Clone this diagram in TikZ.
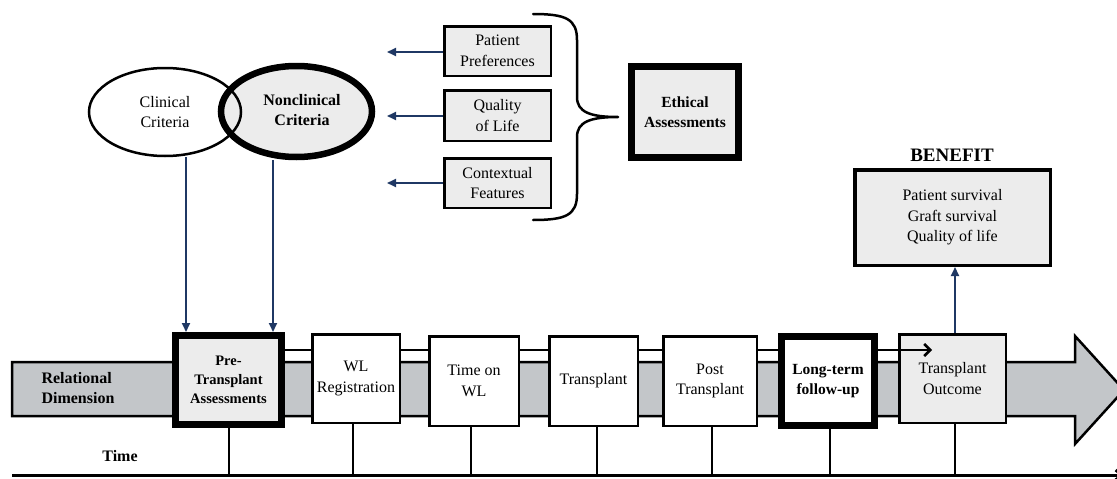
\documentclass[tikz,border=0pt]{standalone}
\usepackage{fontspec}
\setmainfont{Liberation Serif}
\usetikzlibrary{shapes.geometric,arrows.meta}
\definecolor{boxfill}{HTML}{ECECEC}
\definecolor{bandgrey}{HTML}{C3C6C9}
\definecolor{navy}{HTML}{1F3864}
\tikzset{
  txt/.style={font=\fontsize{16}{20.5}\selectfont, align=center, inner sep=0pt},
  thinbox/.style={txt, draw=black, line width=2.5pt, rectangle},
  heavybox/.style={txt, draw=black, line width=7pt, rectangle, font=\fontsize{15.5}{20}\selectfont\bfseries},
  navyarrow/.style={draw=navy, line width=2pt, -{Triangle[length=9pt,width=8pt]}},
  tick/.style={draw=black, line width=2.5pt},
}
\begin{document}
\begin{tikzpicture}[x=1pt,y=-1pt]
\useasboundingbox (0,0) rectangle (1117,479);

% relational dimension band with its arrow head
\draw[fill=bandgrey, line width=2.5pt, line join=miter]
  (12,362) -- (1075,362) -- (1075,336) -- (1124,390) -- (1075,444) -- (1075,416) -- (12,416) -- cycle;
\node[txt, font=\fontsize{16}{20}\selectfont\bfseries, align=left] (rel) at (78,388) {Relational\\Dimension};

% time axis
\coordinate (axL) at (12,475);
\coordinate (axR) at (1124,475);
\draw[line width=3pt, -{Straight Barb[length=6pt,width=10pt]}] (axL) -- (axR);
\node[txt, font=\fontsize{16}{20}\selectfont\bfseries] (time) at (120,456) {Time};

% outcome box first, so the timeline arrow lies on it
\node[thinbox, fill=boxfill, minimum width=106.5pt, minimum height=88.5pt] (outc) at (952.5,378.5) {Transplant\\Outcome};

% timeline arrow running behind the stage boxes
\coordinate (lstart) at (285,350);
\coordinate (lend) at (932,350);
\draw[line width=2.5pt, -{Straight Barb[length=6pt,width=12pt]}] (lstart) -- (lend);

% stage boxes
\node[heavybox, fill=boxfill, minimum width=106pt, minimum height=89pt, font=\fontsize{14.5}{19}\selectfont\bfseries] (pre) at (228.5,380) {Pre-\\Transplant\\Assessments};
\node[thinbox, fill=white, minimum width=87.5pt, minimum height=88.5pt] (wl) at (356,378.5) {WL\\Registration};
\node[thinbox, fill=white, minimum width=89.5pt, minimum height=89.5pt] (time-wl) at (474,381) {Time on\\WL};
\node[thinbox, fill=white, minimum width=88.5pt, minimum height=89.5pt] (tx) at (593.5,381) {Transplant};
\node[thinbox, fill=white, minimum width=93.5pt, minimum height=89.5pt] (post) at (710,381) {Post\\Transplant};
\node[heavybox, fill=white, minimum width=93pt, minimum height=89pt] (long) at (828,381) {Long-term\\follow-up};

% ticks down to the time axis
\foreach \n/\xx in {pre/229, wl/353, time-wl/471, tx/597, post/712, long/830, outc/955}{
  \draw[tick] (\n.south -| \xx,0) -- (axL -| \xx,0);
}

% criteria ellipses
\node[ellipse, fill=white, minimum width=152pt, minimum height=88pt, inner sep=0pt] (clinfill) at (165,112) {};
\node[ellipse, fill=boxfill, draw=black, line width=6.5pt, minimum width=151pt, minimum height=91pt, inner sep=0pt] (nonclin) at (296.5,111.5) {};
\node[ellipse, draw=black, line width=2.5pt, minimum width=152pt, minimum height=88pt, inner sep=0pt] (clin) at (165,112) {};
\node[txt] (clintxt) at (165,112) {Clinical\\Criteria};
\node[txt, font=\fontsize{16}{20.5}\selectfont\bfseries] (nontxt) at (302,110) {Nonclinical\\Criteria};

\coordinate (c1) at (186,157);
\coordinate (c2) at (273,160);
\draw[navyarrow] (c1) -- (pre.north -| c1);
\draw[navyarrow] (c2) -- (pre.north -| c2);

% ethical considerations
\node[thinbox, fill=boxfill, minimum width=106.5pt, minimum height=49.5pt] (pref) at (497.5,51) {Patient\\Preferences};
\node[thinbox, fill=boxfill, minimum width=106.5pt, minimum height=50.5pt] (qol) at (497.5,115.5) {Quality\\of Life};
\node[thinbox, fill=boxfill, minimum width=106.5pt, minimum height=49.5pt] (ctx) at (497.5,183) {Contextual\\Features};
\coordinate (a1) at (387,52);
\coordinate (a2) at (387,116);
\coordinate (a3) at (387,183);
\draw[navyarrow] (pref.west |- a1) -- (a1);
\draw[navyarrow] (qol.west |- a2) -- (a2);
\draw[navyarrow] (ctx.west |- a3) -- (a3);

% grouping brace
\draw[line width=2.5pt, line cap=round, line join=round]
  (533,14) .. controls (566,14) and (577,19) .. (577,40) -- (577,97)
  .. controls (577,112) and (590,117) .. (618,117)
  .. controls (590,117) and (577,122) .. (577,137) -- (577,194)
  .. controls (577,215) and (566,220) .. (533,220);

\node[heavybox, fill=boxfill, minimum width=107pt, minimum height=91pt] (eth) at (685,112) {Ethical\\Assessments};

% benefit
\node[thinbox, fill=boxfill, line width=3.5pt, minimum width=195.5pt, minimum height=95.5pt] (ben) at (952.5,217.5) {Patient survival\\Graft survival\\Quality of life};
\node[txt, font=\fontsize{19}{22}\selectfont\bfseries] (bentitle) at (952,155) {BENEFIT};
\draw[navyarrow] (outc.north -| 955,0) -- (ben.south -| 955,0);
\end{tikzpicture}
\end{document}
